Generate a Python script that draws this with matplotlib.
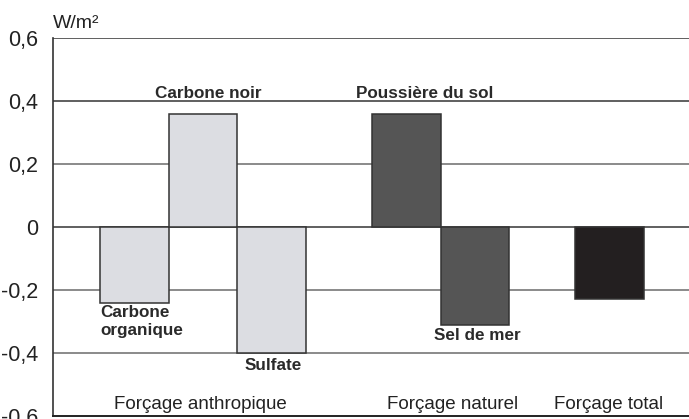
import matplotlib

matplotlib.use("Agg")
import matplotlib.pyplot as plt

plt.rcParams["font.family"] = ["Liberation Sans", "DejaVu Sans"]

# bars, left to right
bar_labels = ["Carbone organique", "Carbone noir", "Sulfate",
              "Poussière du sol", "Sel de mer", "Forçage total"]
bar_values = [-0.24, 0.36, -0.40, 0.36, -0.31, -0.23]
bar_groups = ["anthropique", "anthropique", "anthropique",
              "naturel", "naturel", "total"]

group_names = ["Forçage anthropique", "Forçage naturel", "Forçage total"]

y_ticks = [-0.6, -0.4, -0.2, 0, 0.2, 0.4, 0.6]
y_tick_labels = ["-0,6", "-0,4", "-0,2", "0", "0,2", "0,4", "0,6"]

colors = {"anthropique": "#dcdde2", "naturel": "#555555", "total": "#231f20"}
positions = [1, 2, 3, 4.97, 5.97, 7.93]

fig = plt.figure(figsize=(6.89, 4.19), dpi=100)
ax = fig.add_axes([0.0769, 0.00716, 0.9231, 0.902])

ax.set_ylim(-0.6, 0.6)
ax.set_xlim(-0.19, 9.09)
ax.set_yticks(y_ticks)
ax.set_yticklabels(y_tick_labels, fontsize=15.5, color="#222222")
ax.tick_params(axis="y", length=0, pad=10.5)
ax.set_xticks([])

for v in y_ticks[1:]:
    ax.axhline(v, color="#444444" if v in (0, 0.4, 0.6) else "#777777",
               lw=1.2, zorder=1)

for spine in ["top", "right"]:
    ax.spines[spine].set_visible(False)
ax.spines["left"].set_color("#333333")
ax.spines["bottom"].set_color("#222222")
ax.spines["left"].set_linewidth(1.2)
ax.spines["bottom"].set_linewidth(1.4)

ax.bar(positions, bar_values, width=1.0,
       color=[colors[g] for g in bar_groups],
       edgecolor="#333333", linewidth=1.1, zorder=2)

bold = dict(fontsize=12.3, fontweight="bold", color="#2a2a2a")
ax.text(positions[0] - 0.5, -0.3, "Carbone\norganique", ha="left",
        va="center", linespacing=1.2, **bold)
ax.text(positions[1] + 0.08, 0.425, bar_labels[1], ha="center", va="center", **bold)
ax.text(positions[2] + 0.02, -0.44, bar_labels[2], ha="center", va="center", **bold)
ax.text(positions[3] + 0.26, 0.425, bar_labels[3], ha="center", va="center", **bold)
ax.text(positions[4] + 0.03, -0.343, bar_labels[4], ha="center", va="center", **bold)

group_x = [1.96, 5.64, 7.91]
for gx, name in zip(group_x, group_names):
    ax.text(gx, -0.563, name, ha="center", va="center", fontsize=13.5,
            color="#222222")

ax.text(-0.19, 0.645, "W/m²", ha="left", va="center", fontsize=14,
        color="#222222", clip_on=False)

fig.savefig("out.png", dpi=100)
